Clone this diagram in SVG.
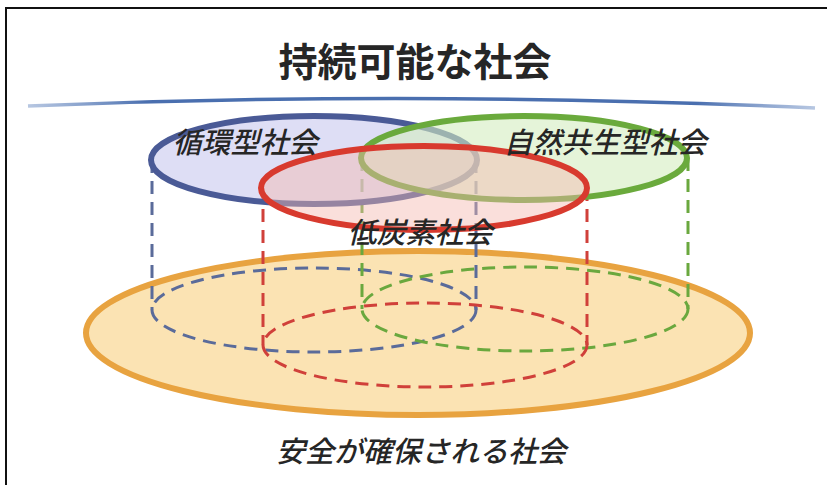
<svg xmlns="http://www.w3.org/2000/svg" width="827" height="485" viewBox="0 0 827 485">
<style>
.t{font-family:"Noto Sans CJK JP","Noto Sans",sans-serif;fill:#262626}
.lbl{font-size:29px;font-style:italic;font-weight:500}
.dash{fill:none;stroke-width:3;stroke-dasharray:13 8}
</style>
<defs>
<linearGradient id="arc" x1="0" x2="1" y1="0" y2="0">
<stop offset="0" stop-color="#6f8fc4" stop-opacity="0.5"/>
<stop offset="0.15" stop-color="#4a6faf"/>
<stop offset="0.85" stop-color="#4a6faf"/>
<stop offset="1" stop-color="#6f8fc4" stop-opacity="0.5"/>
</linearGradient>
</defs>
<rect x="0" y="0" width="827" height="485" fill="#ffffff"/>
<rect x="6" y="8" width="830" height="490" fill="#ffffff" stroke="#111" stroke-width="2"/>
<g id="title"><text class="t" x="415" y="76" font-size="39" font-weight="bold" text-anchor="middle" fill="#111">持続可能な社会</text></g>
<path id="horizon" d="M28,106 Q415,90 815,108" fill="none" stroke="url(#arc)" stroke-width="3.5"/>
<g id="safe">
<ellipse cx="418" cy="333" rx="332" ry="82" fill="#fbe3b3" stroke="#e8a340" stroke-width="6"/>
<text class="t lbl" x="421" y="462" font-size="30" text-anchor="middle">安全が確保される社会</text>
</g>
<g id="connectors">
<ellipse class="dash" cx="314" cy="310" rx="162" ry="42" stroke="#5a6b9a"/>
<ellipse class="dash" cx="525" cy="309" rx="163" ry="42" stroke="#6aa83e"/>
<ellipse class="dash" cx="425" cy="345" rx="162" ry="42" stroke="#d0403a"/>
<line class="dash" x1="152" y1="160" x2="152" y2="310" stroke="#5a6b9a"/>
<line class="dash" x1="476" y1="160" x2="476" y2="310" stroke="#5a6b9a"/>
<line class="dash" x1="362" y1="158" x2="362" y2="309" stroke="#6aa83e"/>
<line class="dash" x1="688" y1="158" x2="688" y2="309" stroke="#6aa83e"/>
<line class="dash" x1="263" y1="188" x2="263" y2="345" stroke="#d0403a"/>
<line class="dash" x1="587" y1="188" x2="587" y2="345" stroke="#d0403a"/>
</g>
<g id="junkan">
<ellipse cx="314" cy="160" rx="163" ry="44" fill="#c8c8ee" fill-opacity="0.6" stroke="#4a5a96" stroke-width="6"/>
</g>
<g id="shizen">
<ellipse cx="524" cy="158" rx="163" ry="42" fill="#d4ecc0" fill-opacity="0.6" stroke="#6aaa3c" stroke-width="6"/>
</g>
<g id="teitanso">
<ellipse cx="424" cy="188" rx="163" ry="42" fill="#f4b8b0" fill-opacity="0.45" stroke="#d83a2e" stroke-width="6"/>
</g>
<text class="t lbl" x="245" y="153" text-anchor="middle">循環型社会</text>
<text class="t lbl" x="605" y="153" text-anchor="middle">自然共生型社会</text>
<text class="t lbl" x="420" y="243" text-anchor="middle">低炭素社会</text>
</svg>
